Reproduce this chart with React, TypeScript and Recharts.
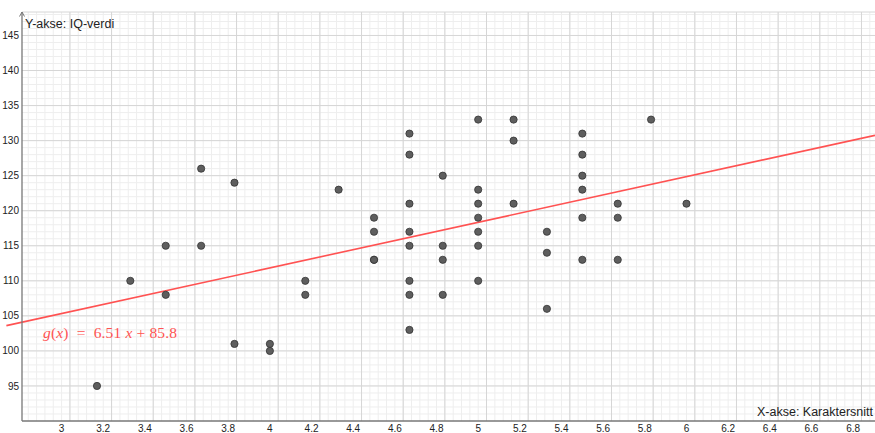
import {
  CartesianGrid,
  ReferenceLine,
  Scatter,
  ScatterChart,
  XAxis,
  YAxis,
} from "recharts";

// karaktersnitt (x) og IQ (y), lest av figuren
const gradeAverage = [
  3.17, 3.33, 3.5, 3.5, 3.67, 3.67, 3.83, 3.83, 4, 4, 4.17, 4.17, 4.33,
  4.5, 4.5, 4.5, 4.5,
  4.67, 4.67, 4.67, 4.67, 4.67, 4.67, 4.67, 4.67,
  4.83, 4.83, 4.83, 4.83,
  5, 5, 5, 5, 5, 5, 5,
  5.17, 5.17, 5.17,
  5.33, 5.33, 5.33,
  5.5, 5.5, 5.5, 5.5, 5.5, 5.5,
  5.67, 5.67, 5.67,
  5.83, 6,
];
const iqScore = [
  95, 110, 115, 108, 126, 115, 124, 101, 101, 100, 110, 108, 123,
  119, 117, 113, 113,
  131, 128, 121, 117, 115, 110, 108, 103,
  125, 115, 113, 108,
  133, 123, 121, 119, 117, 115, 110,
  133, 130, 121,
  117, 114, 106,
  131, 128, 125, 123, 119, 113,
  121, 119, 113,
  133, 121,
];

const xTicks = [3, 3.2, 3.4, 3.6, 3.8, 4, 4.2, 4.4, 4.6, 4.8, 5, 5.2, 5.4, 5.6, 5.8, 6, 6.2, 6.4, 6.6, 6.8];
const yTicks = [95, 100, 105, 110, 115, 120, 125, 130, 135, 140, 145];

// g(x) = 6.51 x + 85.8
const slope = 6.51;
const intercept = 85.8;

const points = gradeAverage.map((x, i) => ({ x, y: iqScore[i] }));

const W = 875;
const H = 433;
const LEFT = 22;
const TOP = 12;
const BOTTOM = 12;
const PW = W - LEFT;
const PH = H - TOP - BOTTOM;
const X_MIN = 2.81;
const X_MAX = 6.905;
const Y_MIN = 90;
const Y_MAX = 148.35;

const px = (v: number) => LEFT + ((v - X_MIN) / (X_MAX - X_MIN)) * PW;
const py = (v: number) => TOP + ((Y_MAX - v) / (Y_MAX - Y_MIN)) * PH;

const minorX: number[] = [];
for (let k = Math.ceil(X_MIN / 0.04); k * 0.04 <= X_MAX; k++) minorX.push(px(k * 0.04));
const majorX: number[] = [];
for (let k = Math.ceil(X_MIN / 0.2); k * 0.2 + 0.04 <= X_MAX; k++) majorX.push(px(k * 0.2 + 0.04));
const minorY: number[] = [];
for (let v = Y_MIN + 1; v < Y_MAX; v++) minorY.push(py(v));
const majorY: number[] = [TOP];
for (let v = 95; v < Y_MAX; v += 5) majorY.push(py(v));

const tickStyle = { fontSize: 10, fill: "#222", fontFamily: "Liberation Sans, Arial, sans-serif" };
const RED = "#ff5252";

const Dot = (props: any) => (
  <circle cx={props.cx} cy={props.cy} r={3.6} fill="#5e5e5e" stroke="#333" strokeWidth={0.8} />
);

export default function App() {
  const lineStart = 2.735;
  return (
    <div style={{ position: "absolute", left: 0, top: 0, width: W, height: H, background: "#fff" }}>
      <ScatterChart width={W} height={H} margin={{ top: TOP, right: 0, bottom: 0, left: 0 }}>
        <CartesianGrid stroke="#eeeeee" verticalPoints={minorX} horizontalPoints={minorY} />
        <CartesianGrid stroke="#d6d6d6" verticalPoints={majorX} horizontalPoints={majorY} />
        <XAxis
          type="number"
          dataKey="x"
          domain={[X_MIN, X_MAX]}
          ticks={xTicks}
          interval={0}
          allowDataOverflow
          height={BOTTOM}
          axisLine={{ stroke: "#777", strokeWidth: 1.3 }}
          tickLine={false}
          tickSize={0}
          tickMargin={4}
          tick={tickStyle}
        />
        <YAxis
          type="number"
          dataKey="y"
          domain={[Y_MIN, Y_MAX]}
          ticks={yTicks}
          interval={0}
          allowDataOverflow
          width={LEFT}
          axisLine={{ stroke: "#777", strokeWidth: 1.3 }}
          tickLine={false}
          tickSize={0}
          tickMargin={3}
          tick={tickStyle}
        />
        <ReferenceLine
          segment={[
            { x: lineStart, y: slope * lineStart + intercept },
            { x: X_MAX, y: slope * X_MAX + intercept },
          ]}
          stroke={RED}
          strokeWidth={1.6}
          ifOverflow="visible"
        />
        <Scatter data={points} shape={Dot} isAnimationActive={false} />
      </ScatterChart>
      <svg
        width={W}
        height={H}
        style={{ position: "absolute", left: 0, top: 0, pointerEvents: "none" }}
      >
        <polyline points="19.5,16.5 22,12 24.5,16.5" fill="none" stroke="#777" strokeWidth={1} />
        <text x={25} y={27.5} fontSize={12.5} fill="#222" fontFamily="Liberation Sans, Arial, sans-serif">
          Y-akse: IQ-verdi
        </text>
        <text x={873} y={416} fontSize={12.5} fill="#222" textAnchor="end" fontFamily="Liberation Sans, Arial, sans-serif">
          X-akse: Karaktersnitt
        </text>
        <text
          x={43}
          y={338}
          fontSize={15.5}
          fill={RED}
          fontFamily="Liberation Serif, Times New Roman, serif"
          textLength={134}
          lengthAdjust="spacing"
          xmlSpace="preserve"
        >
          <tspan fontStyle="italic">g</tspan>(<tspan fontStyle="italic">x</tspan>)  =  6.51 <tspan fontStyle="italic">x</tspan> + 85.8
        </text>
      </svg>
    </div>
  );
}
